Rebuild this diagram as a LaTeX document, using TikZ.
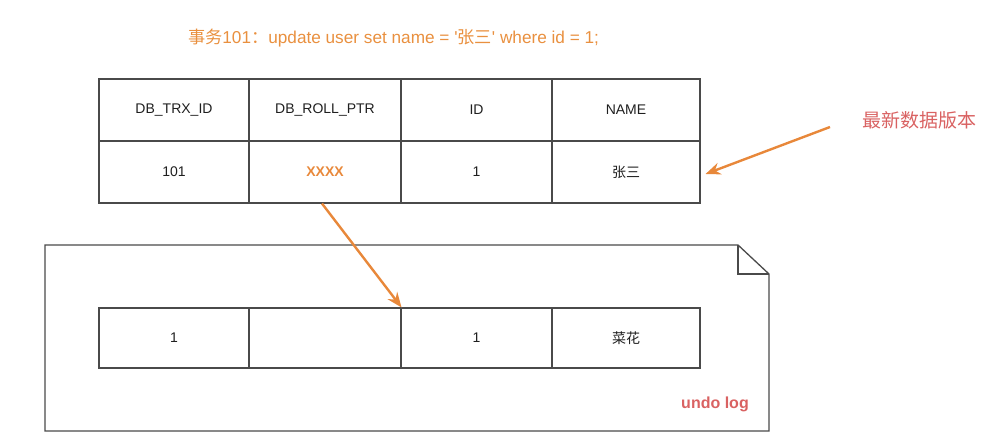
\documentclass[tikz,border=0pt]{standalone}
\usepackage{fontspec}
\newfontfamily\lat{Liberation Sans}
\newfontfamily\cjk{Noto Sans CJK SC}
\usetikzlibrary{arrows.meta}
\definecolor{linec}{HTML}{4A4A4A}
\definecolor{orangec}{HTML}{E8883A}
\definecolor{titlec}{HTML}{E9903F}
\definecolor{redc}{HTML}{D96262}
\begin{document}
\begin{tikzpicture}[x=1pt,y=-1pt,
  cell/.style={draw=linec,line width=1.1pt,inner sep=0pt,anchor=center,
    minimum height=62pt,text=black!88,font=\lat\fontsize{14}{16}\selectfont},
  ucell/.style={cell,minimum height=60pt},
  arr/.style={draw=orangec,line width=2.4pt,-{Stealth[length=15pt,width=12pt,inset=5pt]}},
  box/.style={draw=linec,line width=1.3pt,line join=miter}]
\useasboundingbox (0,0) rectangle (987,445);
% title
\node[text=titlec,font=\lat\fontsize{17.2}{20}\selectfont] (title) at (393.5,38)
  {{\cjk 事务}101{\cjk ：}update user set name = '{\cjk 张三}' where id = 1;};
% top table
\node[cell,minimum width=150pt] (h1) at (174,110) {\raisebox{-2pt}{DB\_TRX\_ID}};
\node[cell,minimum width=152pt] (h2) at (325,110) {\raisebox{-2pt}{DB\_ROLL\_PTR}};
\node[cell,minimum width=151pt] (h3) at (476.5,110) {\raisebox{-2pt}{ID}};
\node[cell,minimum width=148pt] (h4) at (626,110) {\raisebox{-2pt}{NAME}};
\node[cell,minimum width=150pt] (v1) at (174,172) {101};
\node[cell,minimum width=152pt,text=orangec,font=\lat\bfseries\fontsize{14}{16}\selectfont] (v2) at (325,172) {XXXX};
\node[cell,minimum width=151pt] (v3) at (476.5,172) {1};
\node[cell,minimum width=148pt] (v4) at (626,172) {\cjk 张三};
% undo log page
\draw[box] (45,245) -- (738,245) -- (769,274) -- (769,431) -- (45,431) -- cycle;
\draw[box] (738,245) -- (738,274) -- (769,274);
\node[text=redc,font=\lat\bfseries\fontsize{16}{19}\selectfont] (undo) at (715,404) {undo log};
% inner table
\node[ucell,minimum width=150pt] (u1) at (174,338) {1};
\node[ucell,minimum width=152pt] (u2) at (325,338) {};
\node[ucell,minimum width=151pt] (u3) at (476.5,338) {1};
\node[ucell,minimum width=148pt] (u4) at (626,338) {\cjk 菜花};
% label
\node[text=redc,font=\cjk\fontsize{19}{22}\selectfont] (newest) at (919.5,120) {最新数据版本};
% arrows
\coordinate (s2) at (830,127);
\draw[arr] ([xshift=-3pt]v2.south) -- (u2.north east);
\draw[arr] (s2) -- ([xshift=5pt,yshift=-2pt]v4.east);
\end{tikzpicture}
\end{document}
